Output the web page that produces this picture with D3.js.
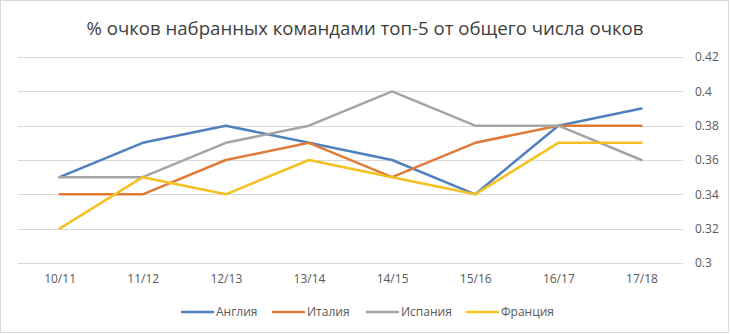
<!DOCTYPE html>
<html>
<head>
<meta charset="utf-8">
<script src="https://cdn.jsdelivr.net/npm/d3@7"></script>
<style>
  html, body { margin: 0; padding: 0; background: #fff; }
  svg { display: block; }
</style>
</head>
<body>
<svg id="chart" width="730" height="334"></svg>
<script>
// Seasons on the x axis
const seasons = ["10/11", "11/12", "12/13", "13/14", "14/15", "15/16", "16/17", "17/18"];

// Share of points collected by the top-5 clubs, per league
const england = [0.35, 0.37, 0.38, 0.37, 0.36, 0.34, 0.38, 0.39];
const italy   = [0.34, 0.34, 0.36, 0.37, 0.35, 0.37, 0.38, 0.38];
const spain   = [0.35, 0.35, 0.37, 0.38, 0.40, 0.38, 0.38, 0.36];
const france  = [0.32, 0.35, 0.34, 0.36, 0.35, 0.34, 0.37, 0.37];

const yTicks = [0.3, 0.32, 0.34, 0.36, 0.38, 0.4, 0.42];

const seriesNames = ["Англия", "Италия", "Испания", "Франция"];
const seriesColors = ["#4f81bd", "#e07b39", "#a5a5a5", "#f5c022"];
const series = [england, italy, spain, france].map((values, i) => ({
  name: seriesNames[i], color: seriesColors[i], values
}));

const svg = d3.select("#chart");
const W = 730, H = 334;
const font = "'Open Sans', 'Noto Sans', sans-serif";

// Outer chart border
svg.append("rect")
  .attr("x", 0.5).attr("y", 0.5)
  .attr("width", W - 2).attr("height", H - 2)
  .attr("fill", "#fff").attr("stroke", "#d9d9d9");

const plot = { left: 18, right: 683, top: 57, bottom: 263 };

const x = d3.scalePoint().domain(seasons).range([plot.left, plot.right]).padding(0.5);
const y = d3.scaleLinear().domain([0.3, 0.42]).range([plot.bottom, plot.top]);

// Title
svg.append("text")
  .attr("x", 365).attr("y", 35)
  .attr("text-anchor", "middle")
  .attr("font-family", font)
  .attr("font-size", 18.6)
  .attr("fill", "#404040")
  .text("% очков набранных командами топ-5 от общего числа очков");

// Horizontal gridlines
svg.append("g").selectAll("line").data(yTicks).join("line")
  .attr("x1", plot.left).attr("x2", plot.right)
  .attr("y1", d => Math.round(y(d)) + 0.5).attr("y2", d => Math.round(y(d)) + 0.5)
  .attr("stroke", "#d9d9d9").attr("stroke-width", 1);

// Right value axis
const yAxis = d3.axisRight(y).tickValues(yTicks).tickSize(0).tickPadding(0)
  .tickFormat(d => d3.format("")(+d.toFixed(2)));
svg.append("g")
  .attr("transform", `translate(${plot.right + 12},0)`)
  .call(yAxis)
  .call(g => g.select(".domain").remove())
  .call(g => g.selectAll("text")
    .attr("font-family", font).attr("font-size", 12).attr("fill", "#595959"));

// Bottom category axis
const xAxis = d3.axisBottom(x).tickSize(0).tickPadding(0);
svg.append("g")
  .attr("transform", `translate(0,${plot.bottom + 11})`)
  .call(xAxis)
  .call(g => g.select(".domain").remove())
  .call(g => g.selectAll("text")
    .attr("font-family", font).attr("font-size", 12).attr("fill", "#595959"));

// Lines
const line = d3.line()
  .x((d, i) => x(seasons[i]))
  .y(d => y(d));

svg.append("g").selectAll("path").data(series).join("path")
  .attr("d", d => line(d.values))
  .attr("fill", "none")
  .attr("stroke", d => d.color)
  .attr("stroke-width", 2.5)
  .attr("stroke-linejoin", "round")
  .attr("stroke-linecap", "round");

// Legend
const legendX = [182, 273, 367, 467];
const legendY = 312;
const lg = svg.append("g").selectAll("g").data(series).join("g")
  .attr("transform", (d, i) => `translate(${legendX[i]},${legendY})`);
lg.append("line")
  .attr("x1", 0).attr("x2", 31).attr("y1", 0).attr("y2", 0)
  .attr("stroke", d => d.color).attr("stroke-width", 2.5)
  .attr("stroke-linecap", "round");
lg.append("text")
  .attr("x", 34).attr("y", 0).attr("dy", "0.35em")
  .attr("font-family", font).attr("font-size", 12).attr("fill", "#595959")
  .text(d => d.name);
</script>
</body>
</html>
